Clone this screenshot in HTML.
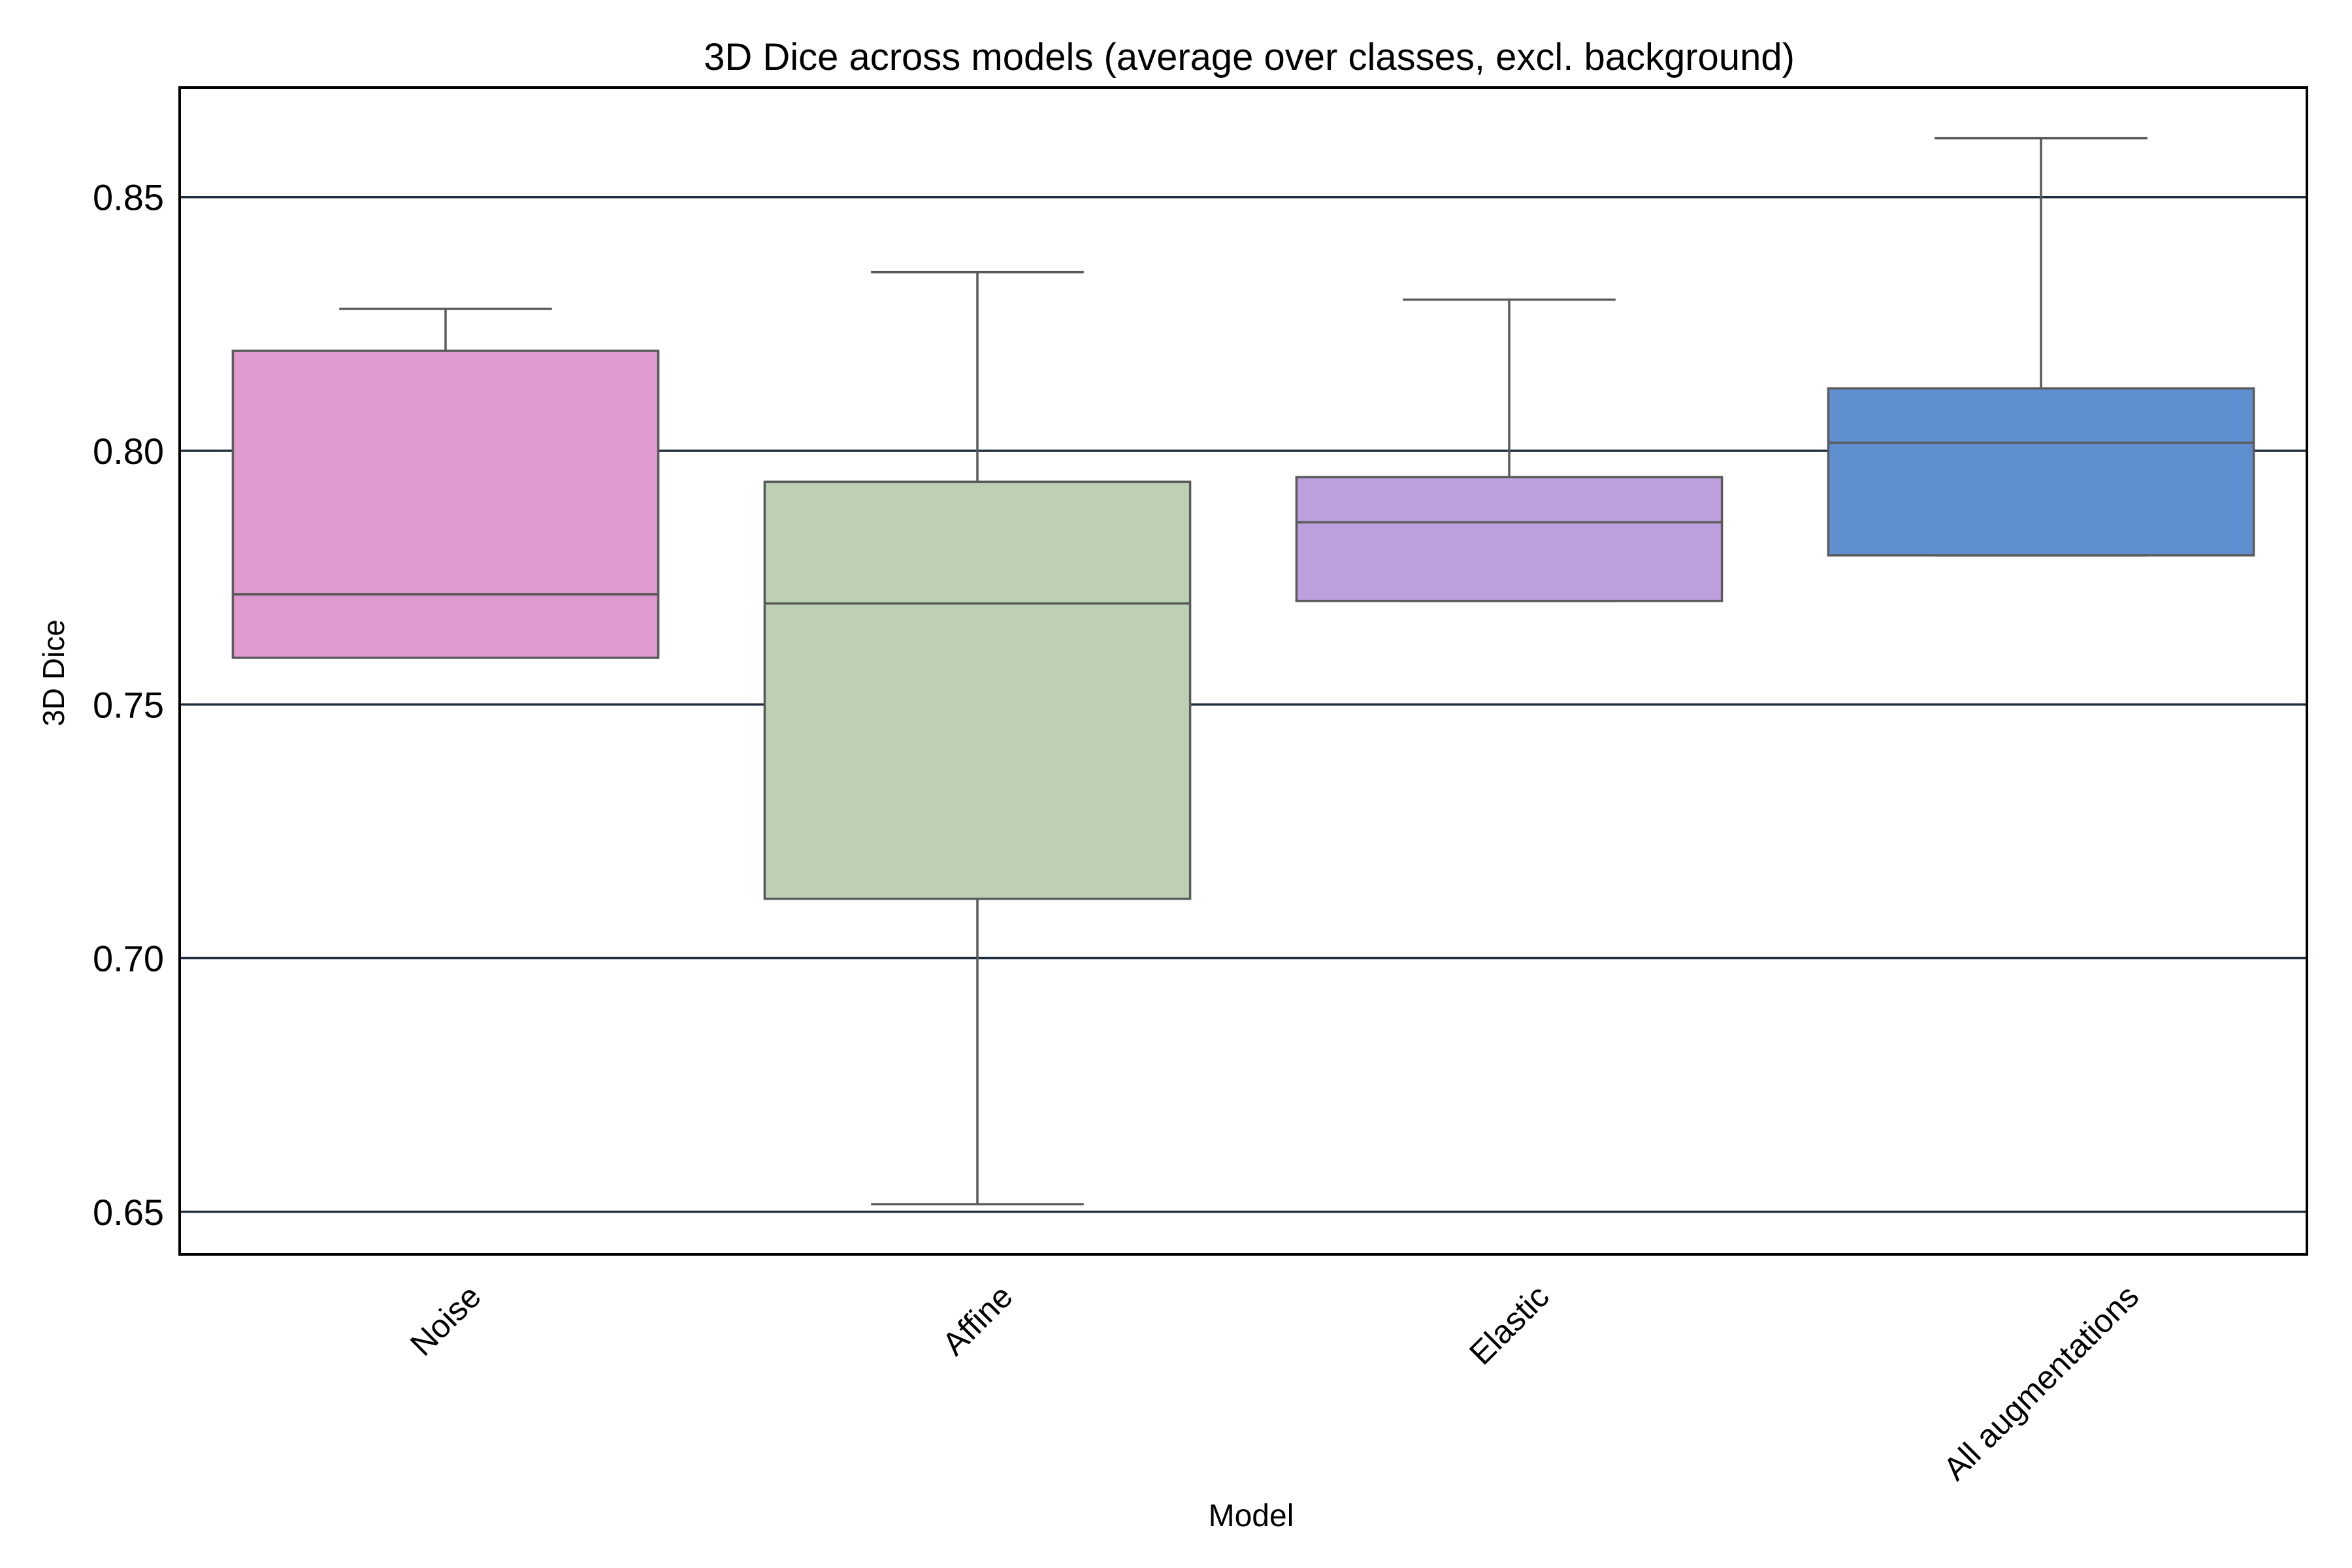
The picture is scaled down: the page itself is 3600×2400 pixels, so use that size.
<!DOCTYPE html>
<html><head><meta charset="utf-8"><style>
html,body{margin:0;padding:0;background:#fff}
svg{display:block;font-family:"Liberation Sans",Arial,sans-serif}
</style></head><body>
<svg id="chart" width="3600" height="2400" viewBox="0 0 3600 2400" xmlns="http://www.w3.org/2000/svg">
<rect width="3600" height="2400" fill="#fff"/>
<text x="1912" y="107" font-size="58" text-anchor="middle" fill="#000">3D Dice across models (average over classes, excl. background)</text>
<g id="grid"></g>
<g id="boxes"></g>
<rect x="275" y="134" width="3256" height="1786" fill="none" stroke="#000" stroke-width="4"/>
<g id="yticks"></g>
<g id="xticks"></g>
<text x="0" y="0" font-size="46" text-anchor="middle" transform="translate(98,1030) rotate(-90)">3D Dice</text>
<text x="1915" y="2336" font-size="48" text-anchor="middle">Model</text>
</svg>
<script>
const categories = ["Noise","Affine","Elastic","All augmentations"];
const whiskLow = [0.7592,0.6515,0.7704,0.7794];
const q1 = [0.7592,0.7117,0.7704,0.7794];
const median = [0.7717,0.7699,0.7859,0.8016];
const q3 = [0.8197,0.7939,0.7948,0.8123];
const whiskHigh = [0.828,0.8352,0.8298,0.8616];
const yTicks = [0.65,0.70,0.75,0.80,0.85];
const yTickLabels = ["0.65","0.70","0.75","0.80","0.85"];
const colors = ["#df9ad0","#bdd0b6","#bc9fdd","#5f8fd0"];

const L=275,R=3531,T=134,B=1920,yMin=0.6416,yMax=0.8716;
const NS="http://www.w3.org/2000/svg";
const y=v=>B-(v-yMin)/(yMax-yMin)*(B-T);
const band=(R-L)/categories.length;
const x=i=>L+band*(i+0.5);
function mk(tag,attrs,parent){const e=document.createElementNS(NS,tag);for(const k in attrs)e.setAttribute(k,attrs[k]);parent.appendChild(e);return e;}
const grid=document.getElementById('grid'),boxes=document.getElementById('boxes'),yt=document.getElementById('yticks'),xt=document.getElementById('xticks');
yTicks.forEach((v,i)=>{
  const g=mk('line',{x1:L,x2:R,y1:y(v),y2:y(v),stroke:'#1e2e3e','stroke-width':3.5},grid);
  
  
  const t=mk('text',{x:L-24,y:y(v)+20,'font-size':56,'text-anchor':'end',fill:'#000'},yt);
  t.textContent=yTickLabels[i];
  
  
});
const bw=band*0.8,cw=bw/2,st='#5a5a5a',sw=3.5;
const fs=50;
categories.forEach((c,i)=>{
  const cx=x(i);
  const g=mk('g',{},boxes);
  
  
  mk('line',{x1:cx,x2:cx,y1:y(whiskHigh[i]),y2:y(q3[i]),stroke:st,'stroke-width':sw},g);
  mk('line',{x1:cx,x2:cx,y1:y(q1[i]),y2:y(whiskLow[i]),stroke:st,'stroke-width':sw},g);
  mk('line',{x1:cx-cw/2,x2:cx+cw/2,y1:y(whiskHigh[i]),y2:y(whiskHigh[i]),stroke:st,'stroke-width':sw},g);
  mk('line',{x1:cx-cw/2,x2:cx+cw/2,y1:y(whiskLow[i]),y2:y(whiskLow[i]),stroke:st,'stroke-width':sw},g);
  mk('rect',{x:cx-bw/2,y:y(q3[i]),width:bw,height:y(q1[i])-y(q3[i]),fill:colors[i],stroke:st,'stroke-width':sw},g);
  mk('line',{x1:cx-bw/2,x2:cx+bw/2,y1:y(median[i]),y2:y(median[i]),stroke:st,'stroke-width':sw},g);
  const t=mk('text',{x:0,y:0,'font-size':fs,'text-anchor':'middle','dominant-baseline':'central',fill:'#000'},xt);
  t.textContent=c;
  
  
  const w=t.getComputedTextLength();
  const half=(w+fs)/2*0.7071;
  t.setAttribute('transform',`translate(${cx},${1958+half}) rotate(-45)`);
});
</script>
</body></html>
